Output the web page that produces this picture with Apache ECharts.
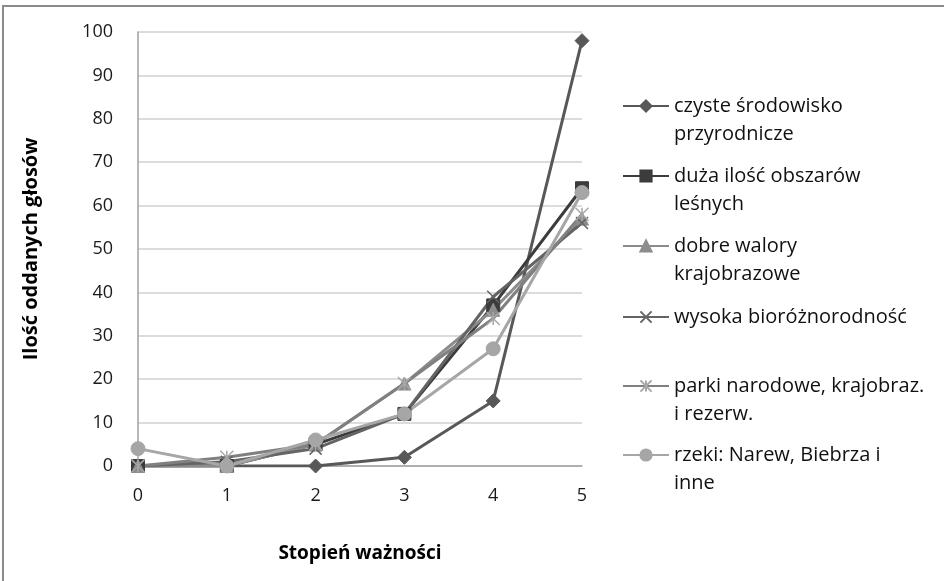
<!DOCTYPE html>
<html>
<head>
<meta charset="utf-8">
<script src="https://cdn.jsdelivr.net/npm/echarts@6/dist/echarts.min.js"></script>
<style>
  html, body { margin: 0; padding: 0; background: #fff; }
  #chart { width: 944px; height: 581px; }
</style>
</head>
<body>
<div id="chart"></div>
<script>
const categories = ["0", "1", "2", "3", "4", "5"];
const seriesNames = [
  "czyste środowisko\nprzyrodnicze",
  "duża ilość obszarów\nleśnych",
  "dobre walory\nkrajobrazowe",
  "wysoka bioróżnorodność",
  "parki narodowe, krajobraz.\ni rezerw.",
  "rzeki: Narew, Biebrza i\ninne"
];
const czyste = [0, 0, 0, 2, 15, 98];
const duza = [0, 0, 5, 12, 37, 64];
const dobre = [0, 0, 5, 19, 36, 57];
const wysoka = [0, 1, 4, 12, 39, 56];
const parki = [0, 2, 5, 19, 34, 58];
const rzeki = [4, 0, 6, 12, 27, 63];

const FONT = "'Open Sans', Lato, sans-serif";
const crossPath = "path://M0,0L10,10M10,0L0,10";
const starPath = "path://M0,0L10,10M10,0L0,10M5,0L5,10";

const styles = [
  { data: czyste, color: "#585858", symbol: "diamond", size: 14 },
  { data: duza, color: "#3c3c3c", symbol: "rect", size: 13 },
  { data: dobre, color: "#8c8c8c", symbol: "triangle", size: 13 },
  { data: wysoka, color: "#646464", symbol: crossPath, size: 12, stroke: true },
  { data: parki, color: "#808080", symbol: starPath, size: 13, stroke: true, mark: "#a8a8a8" },
  { data: rzeki, color: "#a6a6a6", symbol: "circle", size: 14 }
];

const legendCenters = [106, 176, 246, 317, 386, 455];

const chart = echarts.init(document.getElementById("chart"));

const series = styles.map((s, i) => ({
  name: seriesNames[i],
  type: "line",
  data: s.data,
  symbol: s.symbol,
  symbolSize: s.size,
  showAllSymbol: true,
  lineStyle: { color: s.color, width: 3 },
  itemStyle: s.stroke
    ? { color: "rgba(0,0,0,0)", borderColor: s.mark || s.color, borderWidth: 1.5 }
    : { color: s.color, borderColor: s.color, borderWidth: 1 },
  emphasis: { disabled: true }
}));

const legends = seriesNames.map((name, i) => ({
  data: [name],
  left: 622,
  top: legendCenters[i] - 42,
  padding: 0,
  itemWidth: 46,
  itemHeight: 14,
  itemGap: 4,
  selectedMode: false,
  formatter: (n) => "\n" + n + (n.indexOf("\n") < 0 ? "\n" : ""),
  textStyle: { fontFamily: FONT, fontSize: 20, color: "#111", lineHeight: 28 }
}));

chart.setOption({
  animation: false,
  backgroundColor: "#fff",
  graphic: [{
    type: "rect",
    shape: { x: 3, y: 6, width: 960, height: 600 },
    style: { fill: "none", stroke: "#8a8a8a", lineWidth: 2 },
    silent: true
  }],
  legend: legends,
  grid: { left: 138, right: 362, top: 32, bottom: 115 },
  xAxis: {
    type: "category",
    data: categories,
    boundaryGap: false,
    name: "Stopień ważności",
    nameLocation: "middle",
    nameGap: 78,
    nameTextStyle: { fontFamily: FONT, fontSize: 19, fontWeight: "bold", color: "#000" },
    axisLine: { lineStyle: { color: "#a0a0a0", width: 1.5 } },
    axisTick: { show: false },
    axisLabel: { fontFamily: FONT, fontSize: 18, color: "#1a1a1a", margin: 21 },
    splitLine: { show: false }
  },
  yAxis: {
    type: "value",
    min: 0,
    max: 100,
    interval: 10,
    name: "Ilość oddanych głosów",
    nameLocation: "middle",
    nameGap: 97,
    nameTextStyle: { fontFamily: FONT, fontSize: 20, fontWeight: "bold", color: "#000" },
    axisLine: { show: true, lineStyle: { color: "#a0a0a0", width: 1.5 } },
    axisTick: { show: false },
    axisLabel: { fontFamily: FONT, fontSize: 18, color: "#1a1a1a", margin: 25 },
    splitLine: { lineStyle: { color: "#d0d0d0", width: 1.5 } }
  },
  series: series
});
</script>
</body>
</html>
